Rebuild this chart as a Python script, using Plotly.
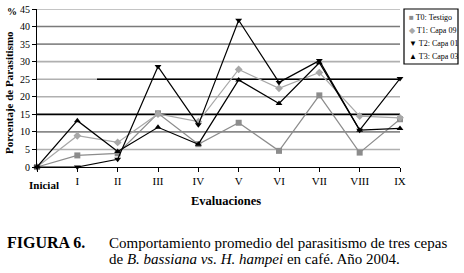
import plotly.graph_objects as go

categories = ["Inicial", "I", "II", "III", "IV", "V", "VI", "VII", "VIII", "IX"]
t0_testigo = [0, 3.3, 3.9, 15.3, 6.5, 12.6, 4.6, 20.4, 4.1, 13.6]
t1_capa09 = [0, 8.9, 7.0, 15.1, 12.9, 27.8, 22.4, 26.9, 14.5, 14.0]
t2_capa01 = [0, 0, 2.2, 28.6, 12.0, 41.8, 24.1, 30.3, 10.5, 25.2]
t3_capa03 = [0, 13.2, 4.4, 11.3, 6.5, 24.8, 18.1, 29.7, 10.5, 11.0]
series_names = ["T0: Testigo", "T1: Capa 09", "T2: Capa 01", "T3: Capa 03"]
y_ticks = [0, 5, 10, 15, 20, 25, 30, 35, 40, 45]

series = [t0_testigo, t1_capa09, t2_capa01, t3_capa03]
colors = ["#8c8c8c", "#a8a8a8", "#000000", "#000000"]
symbols = ["square", "diamond", "triangle-down", "triangle-up"]
legend_glyphs = ["■", "◆", "▼", "▲"]
grid_colors = ["#000000", "#b0b0b0", "#8a8a8a", "#000000", "#b0b0b0",
               "#b0b0b0", "#b0b0b0", "#8a8a8a", "#7a7a7a", "#b0b0b0"]

FONT = "Liberation Serif"
L, R, T, B = 37, 64, 9, 106
W, H = 464, 273
PW, PH = W - L - R, H - T - B


def px(xp):
    return (xp - L) / PW


def py(yp):
    return (H - B - yp) / PH


fig = go.Figure()
xs = list(range(len(categories)))
for name, vals, c, s in zip(series_names, series, colors, symbols):
    fig.add_trace(go.Scatter(
        x=xs, y=vals, name=name, mode="lines+markers",
        line=dict(color=c, width=1.2),
        marker=dict(symbol=s, size=6, color=c),
        cliponaxis=False, showlegend=False))

shapes = []
for v, gc in zip(y_ticks, grid_colors):
    if v == 0:
        continue
    shapes.append(dict(type="line", xref="paper", yref="y", x0=0, x1=1, y0=v, y1=v,
                       line=dict(color=gc, width=1.6), layer="below"))
# dark overlay on the 25 line (starts partway)
shapes.append(dict(type="line", xref="paper", yref="y", x0=px(97), x1=1, y0=25, y1=25,
                   line=dict(color="#000000", width=1.4), layer="below"))
# legend box
shapes.append(dict(type="rect", xref="paper", yref="paper", x0=px(404), x1=px(458),
                   y0=py(64), y1=py(9), line=dict(color="#000000", width=1.2),
                   fillcolor="white"))


def note(xp, yp, text, size, xanchor="center", **kw):
    return dict(xref="paper", yref="paper", x=px(xp), y=py(yp), text=text,
                xanchor=xanchor, yanchor="middle", showarrow=False,
                font=dict(family=FONT, size=size, color="#000"), **kw)


ann = []
for i, (name, c, g) in enumerate(zip(series_names, colors, legend_glyphs)):
    ann.append(note(407, 17 + i * 13.3, f"<span style='color:{c}'>{g}</span> {name}",
                    8, xanchor="left"))
ann += [
    note(44, 185, "<b>Inicial</b>", 11),
    note(226, 201, "<b>Evaluaciones</b>", 12.5),
    note(9, 93, "<b>Porcentaje de Parasitismo</b>", 11, textangle=-90),
    note(12, 12, "<b>%</b>", 10),
    note(5, 243, "<b>FIGURA 6.</b>", 16, xanchor="left"),
    note(107, 243, "Comportamiento promedio del parasitismo de tres cepas", 15,
         xanchor="left"),
    note(107, 259, "de <i>B. bassiana vs. H. hampei</i> en café. Año 2004.", 15,
         xanchor="left"),
]

fig.update_layout(
    width=W, height=H, margin=dict(l=L, r=R, t=T, b=B, autoexpand=False),
    paper_bgcolor="white", plot_bgcolor="white",
    font=dict(family=FONT, size=10, color="#000"),
    shapes=shapes, annotations=ann,
    xaxis=dict(range=[0, len(categories) - 1], tickmode="array", tickvals=xs,
               ticktext=[""] + categories[1:], showgrid=False, zeroline=False,
               showline=True, linecolor="#000", linewidth=1, automargin=False,
               ticks="outside", ticklen=4, tickcolor="#000",
               tickfont=dict(family=FONT, size=11)),
    yaxis=dict(range=[0, 45], tickmode="array", tickvals=y_ticks, showgrid=False,
               zeroline=False, showline=True, linecolor="#000", linewidth=1,
               automargin=False,
               ticks="outside", ticklen=4, tickcolor="#000",
               tickfont=dict(family=FONT, size=10)),
)

fig.write_html("out.html", config={"displayModeBar": False},
               post_script="document.body.style.margin='0';")
